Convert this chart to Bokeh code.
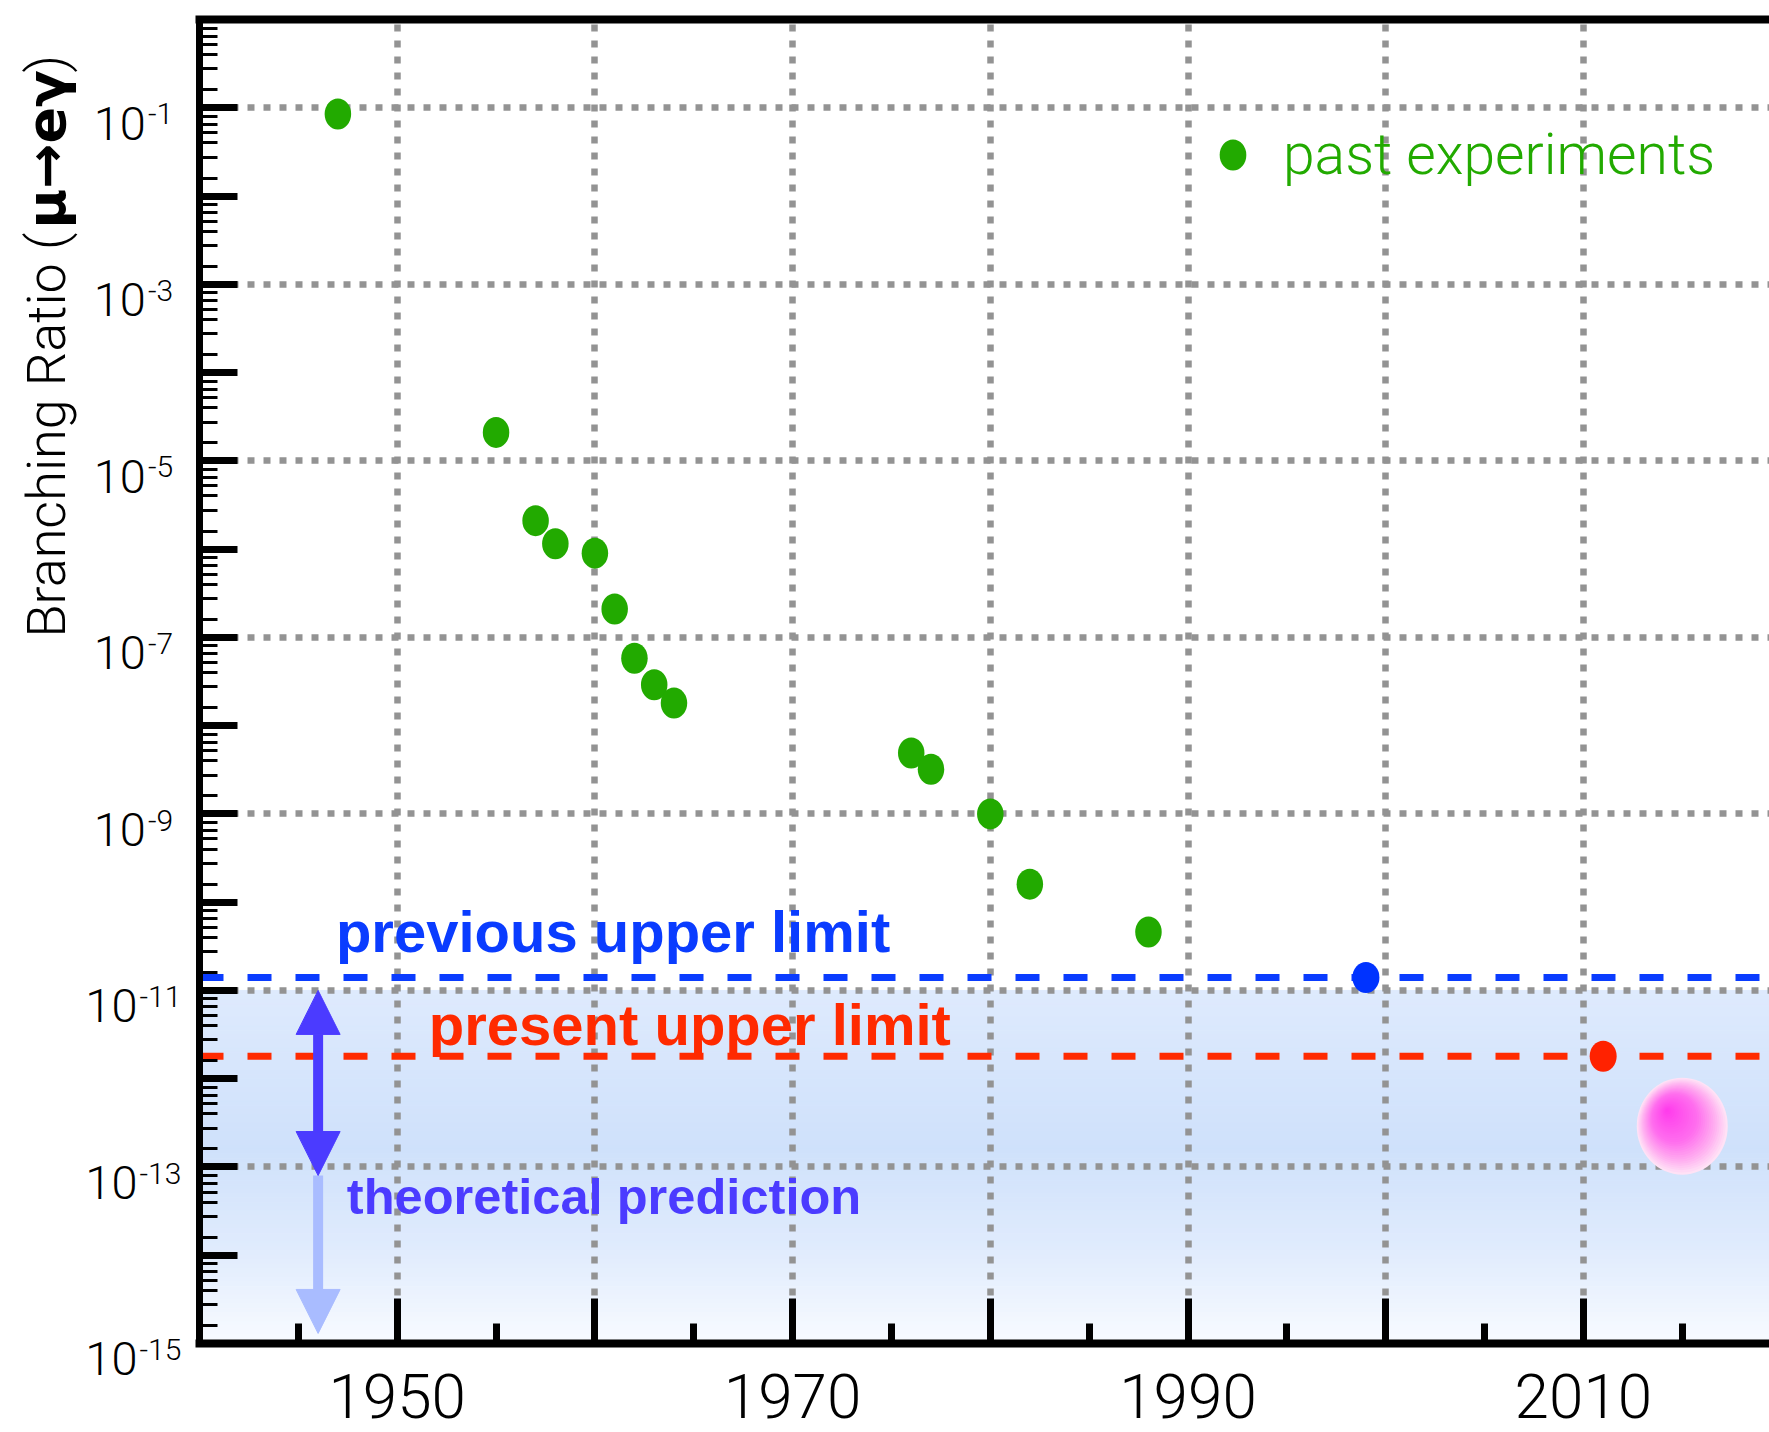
import math
import numpy as np
from bokeh.plotting import figure
from bokeh.models import (Range1d, FixedTicker, LinearAxis, Label, Arrow,
                          NormalHead, Legend, LegendItem, ColumnDataSource,
                          CustomJSTickFormatter)
from bokeh.embed import file_html
from bokeh.resources import INLINE

# ---- data -------------------------------------------------------------
past_years = [1947, 1955, 1957, 1958, 1960, 1961, 1962, 1963, 1964,
              1976, 1977, 1980, 1982, 1988]
past_br = [8.5e-2, 2.1e-5, 2.1e-6, 1.15e-6, 9.0e-7, 2.1e-7, 5.8e-8, 2.9e-8,
           1.8e-8, 4.9e-9, 3.2e-9, 1.0e-9, 1.6e-10, 4.6e-11]

previous_year = 1999
previous_limit = 1.4e-11
present_year = 2011
present_limit = 1.8e-12
future_year = 2015
future_br = 2.9e-13

theory_year = 1946
theory_upper = 1e-11
theory_lower = 8e-14
theory_floor = 1.3e-15

x_tick_years = [1950, 1970, 1990, 2010]
x_tick_labels = ["1950", "1970", "1990", "2010"]
y_label_exponents = [-1, -3, -5, -7, -9, -11, -13, -15]

# ---- layout -------------------------------------------------------------
W, H = 1769, 1432
AX_LEFT, AX_TOP, AX_BOTTOM = 199, 19, 1343          # axis positions in pixels
YEAR0, BR_LO, BR_HI = 1940, 1e-15, 1.0               # axis extents in data units
PX_YEAR = 19.77
PX_DECADE = (AX_BOTTOM - AX_TOP) / 15.0
x_start = YEAR0 - AX_LEFT / PX_YEAR
x_end = YEAR0 + (W - AX_LEFT) / PX_YEAR
y_top = 10 ** (AX_TOP / PX_DECADE)
y_bottom = 10 ** (-15 - (H - AX_BOTTOM) / PX_DECADE)

LIGHT_FONT = "Roboto Light, Liberation Sans"
BOLD_FONT = "Liberation Sans"
SYMBOL_FONT = "DejaVu Sans"
MID = 0.345  # distance of the 'middle' anchor above the baseline, in em
GREEN = "#22aa00"
BLUE = "#0a3cff"
RED = "#ff2a00"
THEORY = "#4b3bff"
THEORY_LIGHT = "#a9bcff"
GRID = "#939393"

blank = CustomJSTickFormatter(code="return ''")


def lerp_color(stops, t):
    for (t0, c0), (t1, c1) in zip(stops, stops[1:]):
        if t <= t1:
            f = (t - t0) / (t1 - t0)
            return "#%02x%02x%02x" % tuple(round(a + (b - a) * f) for a, b in zip(c0, c1))
    return "#%02x%02x%02x" % stops[-1][1]


p = figure(width=W, height=H, title=None,
           x_range=Range1d(x_start, x_end), y_range=Range1d(y_bottom, y_top),
           y_axis_type="log", output_backend="svg", toolbar_location=None,
           min_border=0)
p.outline_line_color = None
p.background_fill_color = "white"
p.border_fill_color = "white"

# x axis
xa = p.xaxis[0]
xa.fixed_location = BR_LO
xa.bounds = (YEAR0, x_end)
xa.ticker = FixedTicker(ticks=list(range(1940, 2021, 10)),
                        minor_ticks=list(range(1945, 2020, 10)))
xa.formatter = blank
xa.axis_line_width = 8
xa.axis_line_color = "black"
xa.axis_line_cap = "square"
xa.major_tick_in, xa.major_tick_out, xa.major_tick_line_width = 45, 0, 7
xa.minor_tick_in, xa.minor_tick_out, xa.minor_tick_line_width = 20, 0, 7
xa.major_label_standoff = 0

# y axis (log)
decades = [10.0 ** -k for k in range(0, 16)]
minor_mantissas = [1.6, 2.75, 4.0, 5.2, 6.5, 8.0]
minor = [m * 10.0 ** -k for k in range(1, 16) for m in minor_mantissas]
ya = p.yaxis[0]
ya.fixed_location = YEAR0
ya.bounds = (BR_LO, BR_HI)
ya.ticker = FixedTicker(ticks=decades, minor_ticks=minor)
ya.formatter = blank
ya.axis_line_width = 7
ya.axis_line_color = "black"
ya.axis_line_cap = "square"
ya.major_tick_in, ya.major_tick_out, ya.major_tick_line_width = 38, 0, 7
ya.minor_tick_in, ya.minor_tick_out, ya.minor_tick_line_width = 18, 0, 3
ya.major_label_standoff = 0

# top frame line
top = LinearAxis(ticker=FixedTicker(ticks=[YEAR0]), formatter=blank, axis_line_width=8,
                 axis_line_cap="square", fixed_location=BR_HI, bounds=(YEAR0, x_end),
                 major_label_standoff=0, major_tick_in=0, major_tick_out=0,
                 minor_tick_in=0, minor_tick_out=0)
p.add_layout(top, "above")

# dotted grid
p.xgrid.ticker = FixedTicker(ticks=list(range(1950, 2011, 10)))
p.ygrid.ticker = FixedTicker(ticks=[10.0 ** e for e in y_label_exponents[:-1]])
p.xgrid.cross_bounds = (BR_LO, BR_HI)
p.ygrid.cross_bounds = (YEAR0, x_end)
for g in (p.xgrid[0], p.ygrid[0]):
    g.grid_line_color = GRID
    g.grid_line_width = 6.5
    g.grid_line_dash = "7 9"

# shaded theoretical region (vertical gradient)
band_stops = [(0.0, (222, 234, 253)), (0.45, (207, 225, 251)),
              (0.75, (225, 236, 253)), (1.0, (248, 251, 255))]
n_strips = 80
edges = np.linspace(math.log10(theory_upper), math.log10(BR_LO), n_strips + 1)
strip_colors = [lerp_color(band_stops, (i + 0.5) / n_strips) for i in range(n_strips)]
p.quad(left=YEAR0, right=x_end, top=10.0 ** edges[:-1], bottom=10.0 ** edges[1:],
       fill_color=strip_colors, line_color=strip_colors, line_width=1, level="image")

# limit lines
p.segment(x0=YEAR0, x1=x_end, y0=previous_limit, y1=previous_limit,
          line_color=BLUE, line_width=7, line_dash="24 24")
p.segment(x0=YEAR0, x1=x_end, y0=present_limit, y1=present_limit,
          line_color=RED, line_width=7, line_dash="24 24")

# future sensitivity blob (layered radial shading)
blob_stops = [(0.0, (255, 226, 246)), (0.2, (255, 175, 240)),
              (0.5, (255, 110, 238)), (1.0, (255, 60, 236))]
n_layers = 30
ts = np.linspace(0, 0.97, n_layers)
blob = ColumnDataSource(dict(
    x=[future_year - t * 15.5 / PX_YEAR for t in ts],
    y=[future_br * 10 ** (t * 16 / PX_DECADE) for t in ts],
    w=[91 * (1 - t) for t in ts],
    h=[97 * (1 - t) for t in ts],
    c=[lerp_color(blob_stops, t / 0.97) for t in ts],
))
p.ellipse(x="x", y="y", width="w", height="h", width_units="screen",
          height_units="screen", fill_color="c", line_color=None, source=blob)

# measurements
past = ColumnDataSource(dict(x=past_years, y=past_br))
r_past = p.ellipse(x="x", y="y", width=26.5, height=31, width_units="screen",
                   height_units="screen", fill_color=GREEN, line_color=None, source=past)
p.ellipse(x=[previous_year], y=[previous_limit], width=27, height=31,
          width_units="screen", height_units="screen", fill_color="#0033ff", line_color=None)
p.ellipse(x=[present_year], y=[present_limit], width=27, height=31,
          width_units="screen", height_units="screen", fill_color="#ff2200", line_color=None)

# theoretical prediction arrows
p.add_layout(Arrow(end=NormalHead(size=44, fill_color=THEORY_LIGHT, line_color=THEORY_LIGHT, line_width=1),
                   start=None, x_start=theory_year, y_start=theory_lower,
                   x_end=theory_year, y_end=theory_floor,
                   line_color=THEORY_LIGHT, line_width=10))
p.add_layout(Arrow(start=NormalHead(size=44, fill_color=THEORY, line_color=THEORY, line_width=1),
                   end=NormalHead(size=44, fill_color=THEORY, line_color=THEORY, line_width=1),
                   x_start=theory_year, y_start=theory_upper,
                   x_end=theory_year, y_end=theory_lower,
                   line_color=THEORY, line_width=10))


def text(x, y, txt, size, color="black", font=LIGHT_FONT, style="normal",
         align="left", dx=0.0, baseline_dy=0.0, angle=0.0):
    """Place a text whose baseline sits baseline_dy pixels above (x, y)."""
    if angle:
        xo, yo = dx - MID * size, baseline_dy
    else:
        xo, yo = dx, baseline_dy + MID * size
    p.add_layout(Label(x=x, y=y, x_offset=xo, y_offset=yo, text=txt, angle=angle,
                       text_align=align, text_baseline="middle", text_font=font,
                       text_font_style=style, text_font_size=f"{size}px",
                       text_color=color))


# annotation texts
text(1946.9, previous_limit, "previous upper limit", 58, BLUE, BOLD_FONT, "bold", baseline_dy=26)
text(1951.6, present_limit, "present upper limit", 58, RED, BOLD_FONT, "bold", baseline_dy=12)
text(1947.45, 1e-13, "theoretical prediction", 50.6, THEORY, BOLD_FONT, "bold", baseline_dy=-47)

# x tick labels
for yr, txt in zip(x_tick_years, x_tick_labels):
    text(yr, BR_LO, txt, 62, align="center", baseline_dy=-74)

# y tick labels: "10" with a raised exponent, centred as a group
for e in y_label_exponents:
    exp_txt = str(e)
    base_w = 52.8
    exp_w = 30 * (0.27 + 0.5615 * (len(exp_txt) - 1))
    group_w = base_w + 2 + exp_w
    base_right = -66.5 - group_w / 2 + base_w
    text(YEAR0, 10.0 ** e, "10", 47, align="right", dx=base_right, baseline_dy=-31.5)
    text(YEAR0, 10.0 ** e, exp_txt, 30, align="left", dx=base_right + 2, baseline_dy=-16.5)

# y axis title, rotated (reads bottom to top); the process name is set in bold
title_dx = 65 - AX_LEFT
title_size = 54
symbol_size = 54
symbol_start = 228                       # pixel row where the bold part begins
symbol_len = 2.889 * symbol_size         # advance of the bold part
text(YEAR0, BR_HI, "Branching Ratio (", title_size, align="left", dx=title_dx,
     baseline_dy=-(637 - AX_TOP), angle=math.pi / 2)
text(YEAR0, BR_HI, "\u03bc\u2192e\u03b3", symbol_size, font=SYMBOL_FONT, style="bold",
     align="left", dx=title_dx, baseline_dy=-(symbol_start - AX_TOP), angle=math.pi / 2)
text(YEAR0, BR_HI, ")", title_size, align="left", dx=title_dx,
     baseline_dy=-(symbol_start - symbol_len - AX_TOP), angle=math.pi / 2)

# legend
legend = Legend(items=[LegendItem(label="past experiments", renderers=[r_past])],
                location=(1213, 1244), glyph_width=39, glyph_height=39, label_height=39,
                label_standoff=31, padding=0, margin=0, spacing=0,
                border_line_color=None, background_fill_alpha=0,
                label_text_font=LIGHT_FONT, label_text_font_size="57px",
                label_text_color=GREEN)
p.add_layout(legend)

open("out.html", "w").write(file_html(p, INLINE))
